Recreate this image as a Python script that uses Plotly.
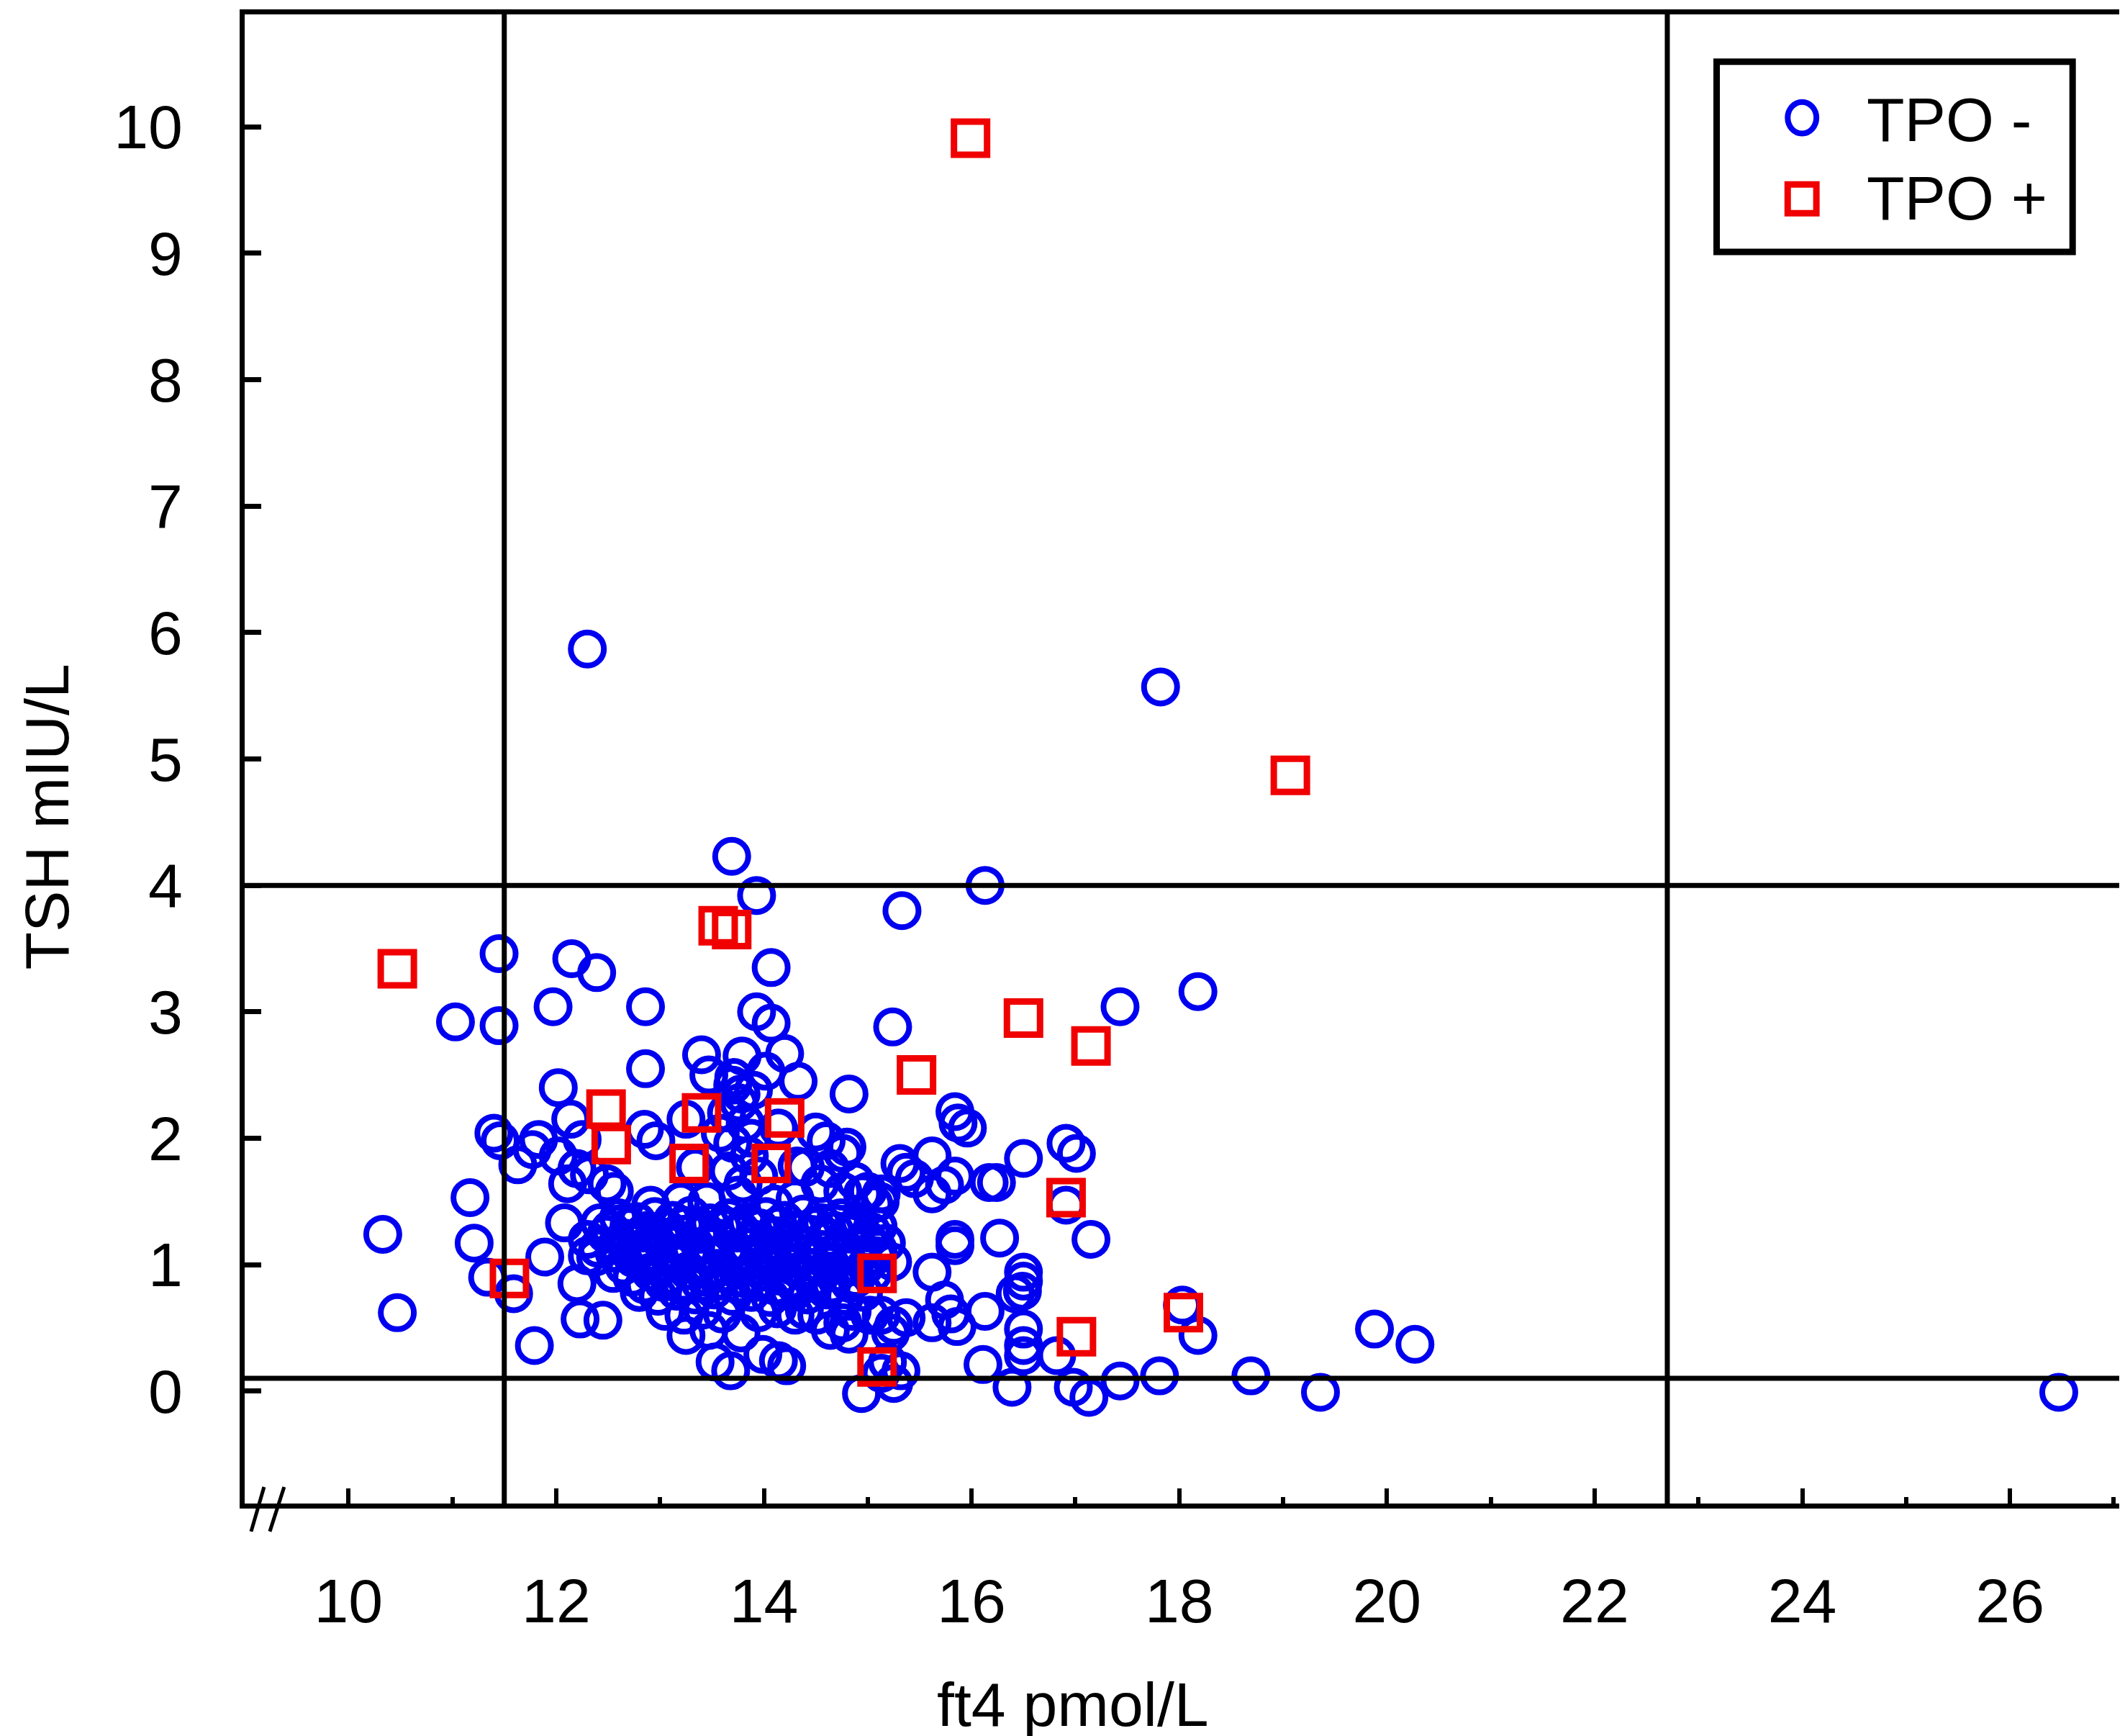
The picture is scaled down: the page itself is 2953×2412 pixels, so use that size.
import plotly.graph_objects as go

# ---- data ----
# TPO negative (blue circles): scattered points
neg_ft4_outer = [
    12.30, 17.82, 13.69, 13.93, 16.13, 15.33, 11.45, 12.15, 12.39, 14.07,
    11.03, 11.45, 11.97, 12.86, 13.93, 14.07, 15.24, 17.43, 18.18, 12.86,
    12.02, 13.40, 13.79, 14.20, 14.33, 13.71, 13.78, 13.47, 14.02, 14.82,
    15.84, 15.87, 15.96, 11.40, 11.46, 11.77, 11.63, 12.02, 12.14, 12.11,
    12.49, 12.08, 11.17, 10.33, 11.21, 11.89, 11.34, 10.47, 11.59, 11.79,
    12.20, 12.23, 12.45, 12.20, 12.85, 12.96, 13.25, 11.83, 12.32, 12.25,
    13.34, 14.14, 14.50, 14.60, 14.40, 14.76, 14.64, 14.88, 14.95, 15.13,
    15.06, 14.30, 14.54, 14.32, 14.80, 15.62, 15.37, 15.31, 15.74, 15.84,
    16.17, 16.24, 16.50, 16.91, 17.01, 14.76, 15.00, 15.12, 16.91, 17.15,
    15.84, 15.84, 16.27, 15.62, 16.50, 16.50, 16.49, 16.42, 15.74, 15.80,
    16.13, 15.62, 15.86, 14.82, 15.25, 15.22, 16.50, 16.50, 16.50, 16.82,
    16.11, 16.39, 16.98, 17.13, 17.43, 17.81, 18.69, 19.36, 18.03, 18.18,
    14.94, 15.25, 15.19, 15.32, 19.88, 20.27, 26.47, 13.68, 13.53, 14.14,
    13.99, 13.78, 13.25, 13.47, 14.22, 14.51, 14.64, 14.76, 14.39, 15.13,
    15.37, 15.13, 15.62, 15.45, 12.91, 13.20, 12.56, 14.10, 13.45, 12.30,
]
neg_tsh_outer = [
    5.87, 5.57, 4.23, 3.92, 4.00, 3.80, 3.46, 3.42, 3.31, 3.35,
    2.92, 2.89, 3.04, 3.04, 3.00, 2.91, 2.88, 3.04, 3.16, 2.55,
    2.40, 2.66, 2.65, 2.67, 2.45, 2.48, 2.35, 2.50, 2.53, 2.35,
    2.21, 2.12, 2.08, 2.04, 1.98, 1.91, 1.79, 1.86, 2.15, 1.64,
    1.64, 1.33, 1.53, 1.24, 1.17, 1.06, 0.90, 0.62, 0.77, 0.36,
    0.85, 0.57, 0.56, 1.76, 2.07, 1.98, 2.15, 1.99, 1.71, 1.99,
    1.77, 2.08, 2.05, 1.98, 1.77, 1.88, 1.76, 1.66, 1.56, 1.56,
    1.48, 1.52, 1.64, 1.78, 1.93, 1.86, 1.73, 1.80, 1.63, 1.70,
    1.65, 1.65, 1.84, 1.96, 1.88, 1.58, 1.58, 1.50, 1.47, 1.20,
    1.20, 1.15, 1.21, 0.94, 0.94, 0.87, 0.79, 0.77, 0.72, 0.61,
    0.63, 0.54, 0.51, 0.45, 0.52, 0.46, 0.49, 0.36, 0.28, 0.28,
    0.21, 0.03, 0.03, -0.05, 0.08, 0.12, 0.12, -0.01, 0.68, 0.44,
    -0.02, 0.06, 0.23, 0.16, 0.49, 0.37, -0.01, 0.16, 0.23, 0.24,
    0.29, 0.46, 0.44, 0.48, 0.20, 0.60, 0.48, 0.54, 0.64, 0.60,
    0.58, 0.14, 1.56, 1.68, 1.47, 1.50, 1.58, 1.48, 1.50, 1.07,
]

# TPO negative: the stack around ft4 ~13.7
neg_ft4_column = [13.70, 13.76, 13.64, 13.82, 13.70, 13.86, 13.66, 13.80, 13.90, 13.58, 13.75, 13.95, 13.88]
neg_tsh_column = [2.42, 2.28, 2.20, 2.12, 1.96, 1.86, 1.74, 1.64, 2.38, 2.04, 1.55, 1.70, 2.00]

# TPO negative: the dense core (ft4 12.3-15.3, TSH 0.6-1.4)
neg_ft4_core = [
    12.42, 12.60, 12.78, 12.95, 13.12, 13.30, 13.48, 13.66, 13.84, 14.02, 14.20, 14.38, 14.56, 14.74, 14.92, 15.10,
    12.52, 12.70, 12.88, 13.06, 13.24, 13.42, 13.60, 13.78, 13.96, 14.14, 14.32, 14.50, 14.68, 14.86, 15.04,
    12.30, 12.48, 12.66, 12.84, 13.02, 13.20, 13.38, 13.56, 13.74, 13.92, 14.10, 14.28, 14.46, 14.64, 14.82, 15.00, 15.18,
    12.40, 12.58, 12.76, 12.94, 13.12, 13.30, 13.48, 13.66, 13.84, 14.02, 14.20, 14.38, 14.56, 14.74, 14.92, 15.10,
    12.38, 12.56, 12.74, 12.92, 13.10, 13.28, 13.46, 13.64, 13.82, 14.00, 14.18, 14.36, 14.54, 14.72, 14.90, 15.08, 15.24,
    12.65, 12.83, 13.01, 13.19, 13.37, 13.55, 13.73, 13.91, 14.09, 14.27, 14.45, 14.63, 14.81, 14.98,
    12.55, 12.73, 12.91, 13.09, 13.27, 13.45, 13.63, 13.81, 13.99, 14.17, 14.35, 14.53, 14.71, 14.89, 15.05,
    12.85, 13.03, 13.21, 13.39, 13.57, 13.75, 13.93, 14.11, 14.29, 14.47, 14.65, 14.83,
    12.80, 12.98, 13.16, 13.34, 13.52, 13.70, 13.88, 14.06, 14.24, 14.42, 14.60, 14.78, 14.96,
    13.05, 13.23, 13.41, 13.60, 13.95, 14.13, 14.30, 14.85, 15.02,
]
neg_tsh_core = [
    1.33, 1.37, 1.34, 1.38, 1.35, 1.39, 1.33, 1.37, 1.34, 1.38, 1.35, 1.40, 1.33, 1.37, 1.34, 1.30,
    1.28, 1.30, 1.27, 1.29, 1.31, 1.28, 1.30, 1.27, 1.29, 1.31, 1.28, 1.30, 1.27, 1.29, 1.26,
    1.20, 1.24, 1.21, 1.25, 1.22, 1.19, 1.24, 1.21, 1.25, 1.20, 1.23, 1.19, 1.24, 1.21, 1.25, 1.20, 1.17,
    1.13, 1.15, 1.12, 1.14, 1.16, 1.13, 1.15, 1.12, 1.14, 1.16, 1.13, 1.15, 1.12, 1.14, 1.13, 1.12,
    1.06, 1.09, 1.05, 1.08, 1.04, 1.09, 1.06, 1.10, 1.05, 1.08, 1.04, 1.09, 1.06, 1.10, 1.05, 1.07, 1.02,
    0.99, 1.00, 0.98, 1.01, 0.99, 0.97, 1.00, 0.98, 1.01, 0.99, 0.97, 1.00, 0.98, 0.99,
    0.93, 0.90, 0.94, 0.91, 0.95, 0.90, 0.93, 0.89, 0.94, 0.91, 0.95, 0.90, 0.93, 0.89, 0.93,
    0.84, 0.86, 0.83, 0.85, 0.87, 0.84, 0.86, 0.83, 0.85, 0.87, 0.84, 0.85,
    0.78, 0.75, 0.79, 0.76, 0.80, 0.75, 0.78, 0.74, 0.79, 0.76, 0.80, 0.75, 0.78,
    0.63, 0.60, 0.64, 0.61, 0.62, 0.65, 0.60, 0.63, 0.60,
]

# TPO positive (red squares)
pos_ft4 = [15.99, 19.07, 10.47, 13.56, 13.69, 16.50, 17.15, 15.47, 12.48, 13.40,
           14.20, 12.53, 13.28, 14.07, 16.91, 11.55, 15.09, 18.04, 17.01, 15.09]
pos_tsh = [9.91, 4.87, 3.34, 3.68, 3.65, 2.95, 2.73, 2.50, 2.23, 2.20,
           2.16, 1.95, 1.80, 1.80, 1.53, 0.89, 0.93, 0.62, 0.43, 0.19]

# reference limits
ft4_limits = [11.5, 22.7]
tsh_limits = [0.1, 4.0]

x_ticks = [10, 12, 14, 16, 18, 20, 22, 24, 26]
y_ticks = [0, 1, 2, 3, 4, 5, 6, 7, 8, 9, 10]

# ---- layout in pixels ----
W, H = 2953, 2412
L, R, T, B = 332, 5, 6, 331
FONT = "Liberation Sans, Arial, sans-serif"
BLUE = "#0000F0"
RED = "#F00000"


def px(x):
    return (x - L) / (W - L - R)


def py(y):
    return (H - B - y) / (H - T - B)


neg_ft4 = neg_ft4_outer + neg_ft4_column + neg_ft4_core
neg_tsh = neg_tsh_outer + neg_tsh_column + neg_tsh_core

fig = go.Figure()
fig.add_trace(go.Scatter(
    x=neg_ft4, y=neg_tsh, mode="markers", name="TPO -",
    marker=dict(symbol="circle-open", size=46, color=BLUE, line=dict(width=8, color=BLUE)),
))
fig.add_trace(go.Scatter(
    x=pos_ft4, y=pos_tsh, mode="markers", name="TPO +",
    marker=dict(symbol="square-open", size=46, color=RED, line=dict(width=9, color=RED)),
))

shapes = []
for v in ft4_limits:
    shapes.append(dict(type="line", xref="x", yref="paper", x0=v, x1=v, y0=0, y1=1,
                       line=dict(color="black", width=7), layer="above"))
for v in tsh_limits:
    shapes.append(dict(type="line", xref="paper", yref="y", x0=0, x1=1, y0=v, y1=v,
                       line=dict(color="black", width=7), layer="above"))

# axis break mark "//"
for x_bot, x_top in [(341, 359), (367, 387)]:
    shapes.append(dict(type="line", xref="paper", yref="paper",
                       x0=px(x_bot), y0=py(2120), x1=px(x_top), y1=py(2058),
                       line=dict(color="black", width=5)))

# legend box and symbols
shapes.append(dict(type="rect", xref="paper", yref="paper",
                   x0=px(2383), x1=px(2879), y0=py(337), y1=py(72),
                   line=dict(color="black", width=9), fillcolor="white", layer="above"))
shapes.append(dict(type="circle", xref="paper", yref="paper",
                   x0=px(2482), x1=px(2522), y0=py(172), y1=py(128),
                   line=dict(color=BLUE, width=8), layer="above"))
shapes.append(dict(type="rect", xref="paper", yref="paper",
                   x0=px(2482), x1=px(2522), y0=py(283), y1=py(243),
                   line=dict(color=RED, width=9), layer="above"))

annotations = [
    dict(text="TPO -", xref="paper", yref="paper", x=px(2590), y=py(152),
         xanchor="left", yanchor="middle", showarrow=False, font=dict(family=FONT, size=86, color="black")),
    dict(text="TPO +", xref="paper", yref="paper", x=px(2590), y=py(262),
         xanchor="left", yanchor="middle", showarrow=False, font=dict(family=FONT, size=86, color="black")),
    dict(text="ft4 pmol/L", xref="paper", yref="paper", x=px(1486), y=py(2361),
         xanchor="center", yanchor="middle", showarrow=False, font=dict(family=FONT, size=86, color="black")),
    dict(text="TSH mIU/L", xref="paper", yref="paper", x=px(56), y=py(1124), textangle=-90,
         xanchor="center", yanchor="middle", showarrow=False, font=dict(family=FONT, size=86, color="black")),
]

fig.update_layout(
    width=W, height=H,
    margin=dict(l=L, r=R, t=T, b=B, pad=0),
    paper_bgcolor="white", plot_bgcolor="white",
    showlegend=False,
    shapes=shapes,
    annotations=annotations,
    font=dict(family=FONT, size=86, color="black"),
)
fig.update_xaxes(
    range=[9.0, 27.08], tickvals=x_ticks, ticks="inside", ticklen=21, tickwidth=6, tickcolor="black",
    showline=True, linewidth=7, linecolor="black", mirror=True,
    showgrid=False, zeroline=False, ticklabelstandoff=55,
    tickfont=dict(family=FONT, size=86, color="black"),
    minor=dict(ticks="inside", ticklen=9, tickwidth=6, tickcolor="black", dtick=1, tick0=9, showgrid=False),
)
fig.update_yaxes(
    range=[-0.89, 10.89], tickvals=y_ticks, ticks="inside", ticklen=23, tickwidth=7, tickcolor="black",
    showline=True, linewidth=7, linecolor="black", mirror=True,
    showgrid=False, zeroline=False, ticklabelstandoff=62,
    tickfont=dict(family=FONT, size=86, color="black"),
)

fig.write_html("out.html")
